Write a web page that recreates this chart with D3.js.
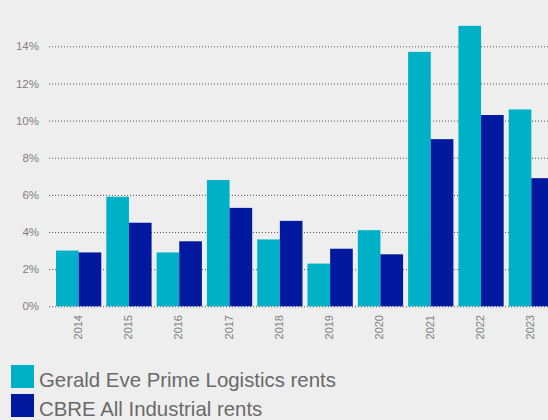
<!DOCTYPE html>
<html lang="en">
<head>
  <meta charset="UTF-8">
  <title>Rental growth</title>
  <style>
    body { margin: 0; background: #eeeeee; }
    svg { display: block; font-family: "Liberation Sans", Arial, sans-serif; }
  </style>
</head>
<body>
  <div id="chart"></div>

  <script src="https://d3js.org/d3.v7.min.js"></script>
  <script>

    const years = ["2014","2015","2016","2017","2018","2019","2020","2021","2022","2023"];
    const geraldEve = [3.0, 5.9, 2.9, 6.8, 3.6, 2.3, 4.1, 13.7, 15.1, 10.6];
    const cbre = [2.9, 4.5, 3.5, 5.3, 4.6, 3.1, 2.8, 9.0, 10.3, 6.9];
    const yTicks = [0, 2, 4, 6, 8, 10, 12, 14];
    const seriesNames = ["Gerald Eve Prime Logistics rents", "CBRE All Industrial rents"];

    const width = 548,
          height = 420;

    const colors = ["#00b0c6", "#00199f"];

    const svg = d3.select("#chart")
      .append("svg")
      .attr("width", width)
      .attr("height", height);

    svg.append("rect")
      .attr("width", width)
      .attr("height", height)
      .attr("fill", "#eeeeee");

    let x = d3.scaleBand(years, [53.5, 556.5])
      .paddingInner(0.1)
      .paddingOuter(0.05);

    let sub = d3.scaleBand([0, 1], [0, x.bandwidth()]);

    let y = d3.scaleLinear([0, 14], [306.3, 46.3]);

    // gridlines + y labels
    const yAxis = svg.append("g")
      .attr("transform", "translate(49,0)")
      .call(d3.axisLeft(y).tickValues(yTicks).tickFormat(d => d + "%")
        .tickSize(-(width - 49)).tickPadding(10));
    yAxis.select(".domain").remove();
    yAxis.selectAll(".tick line")
      .attr("stroke", "#555")
      .attr("stroke-dasharray", "1,2");
    yAxis.selectAll(".tick text")
      .attr("fill", "#808080")
      .attr("font-size", 11.5);

    const data = years.map((yr, i) => ({year: yr, vals: [geraldEve[i], cbre[i]]}));

    svg.append("g")
      .selectAll("g")
      .data(data)
      .join("g")
      .attr("transform", d => `translate(${x(d.year)},0)`)
      .selectAll("rect")
      .data(d => d.vals)
      .join("rect")
      .attr("x", (d, i) => sub(i))
      .attr("y", d => y(d))
      .attr("width", sub.bandwidth())
      .attr("height", d => y(0) - y(d))
      .attr("fill", (d, i) => colors[i]);

    // x labels, rotated
    svg.append("g")
      .selectAll("text")
      .data(years)
      .join("text")
      .attr("transform", d => `translate(${x(d) + x.bandwidth() / 2 + 3},315) rotate(-90)`)
      .attr("text-anchor", "end")
      .attr("fill", "#808080")
      .attr("font-size", 11)
      .text(d => d);

    // legend
    let legend = svg.selectAll(".legend-group")
      .data(seriesNames)
      .join("g")
      .attr("class", "legend-group")
      .attr("transform", (d, i) => `translate(11,${365 + i * 29})`);

    legend.append("rect")
      .attr("width", 23)
      .attr("height", 23)
      .attr("fill", (d, i) => colors[i]);

    legend.append("text")
      .attr("x", 28)
      .attr("y", 22)
      .attr("font-size", 20.4)
      .attr("fill", "#6a6a6a")
      .text(d => d);

  </script>
</body>
</html>
